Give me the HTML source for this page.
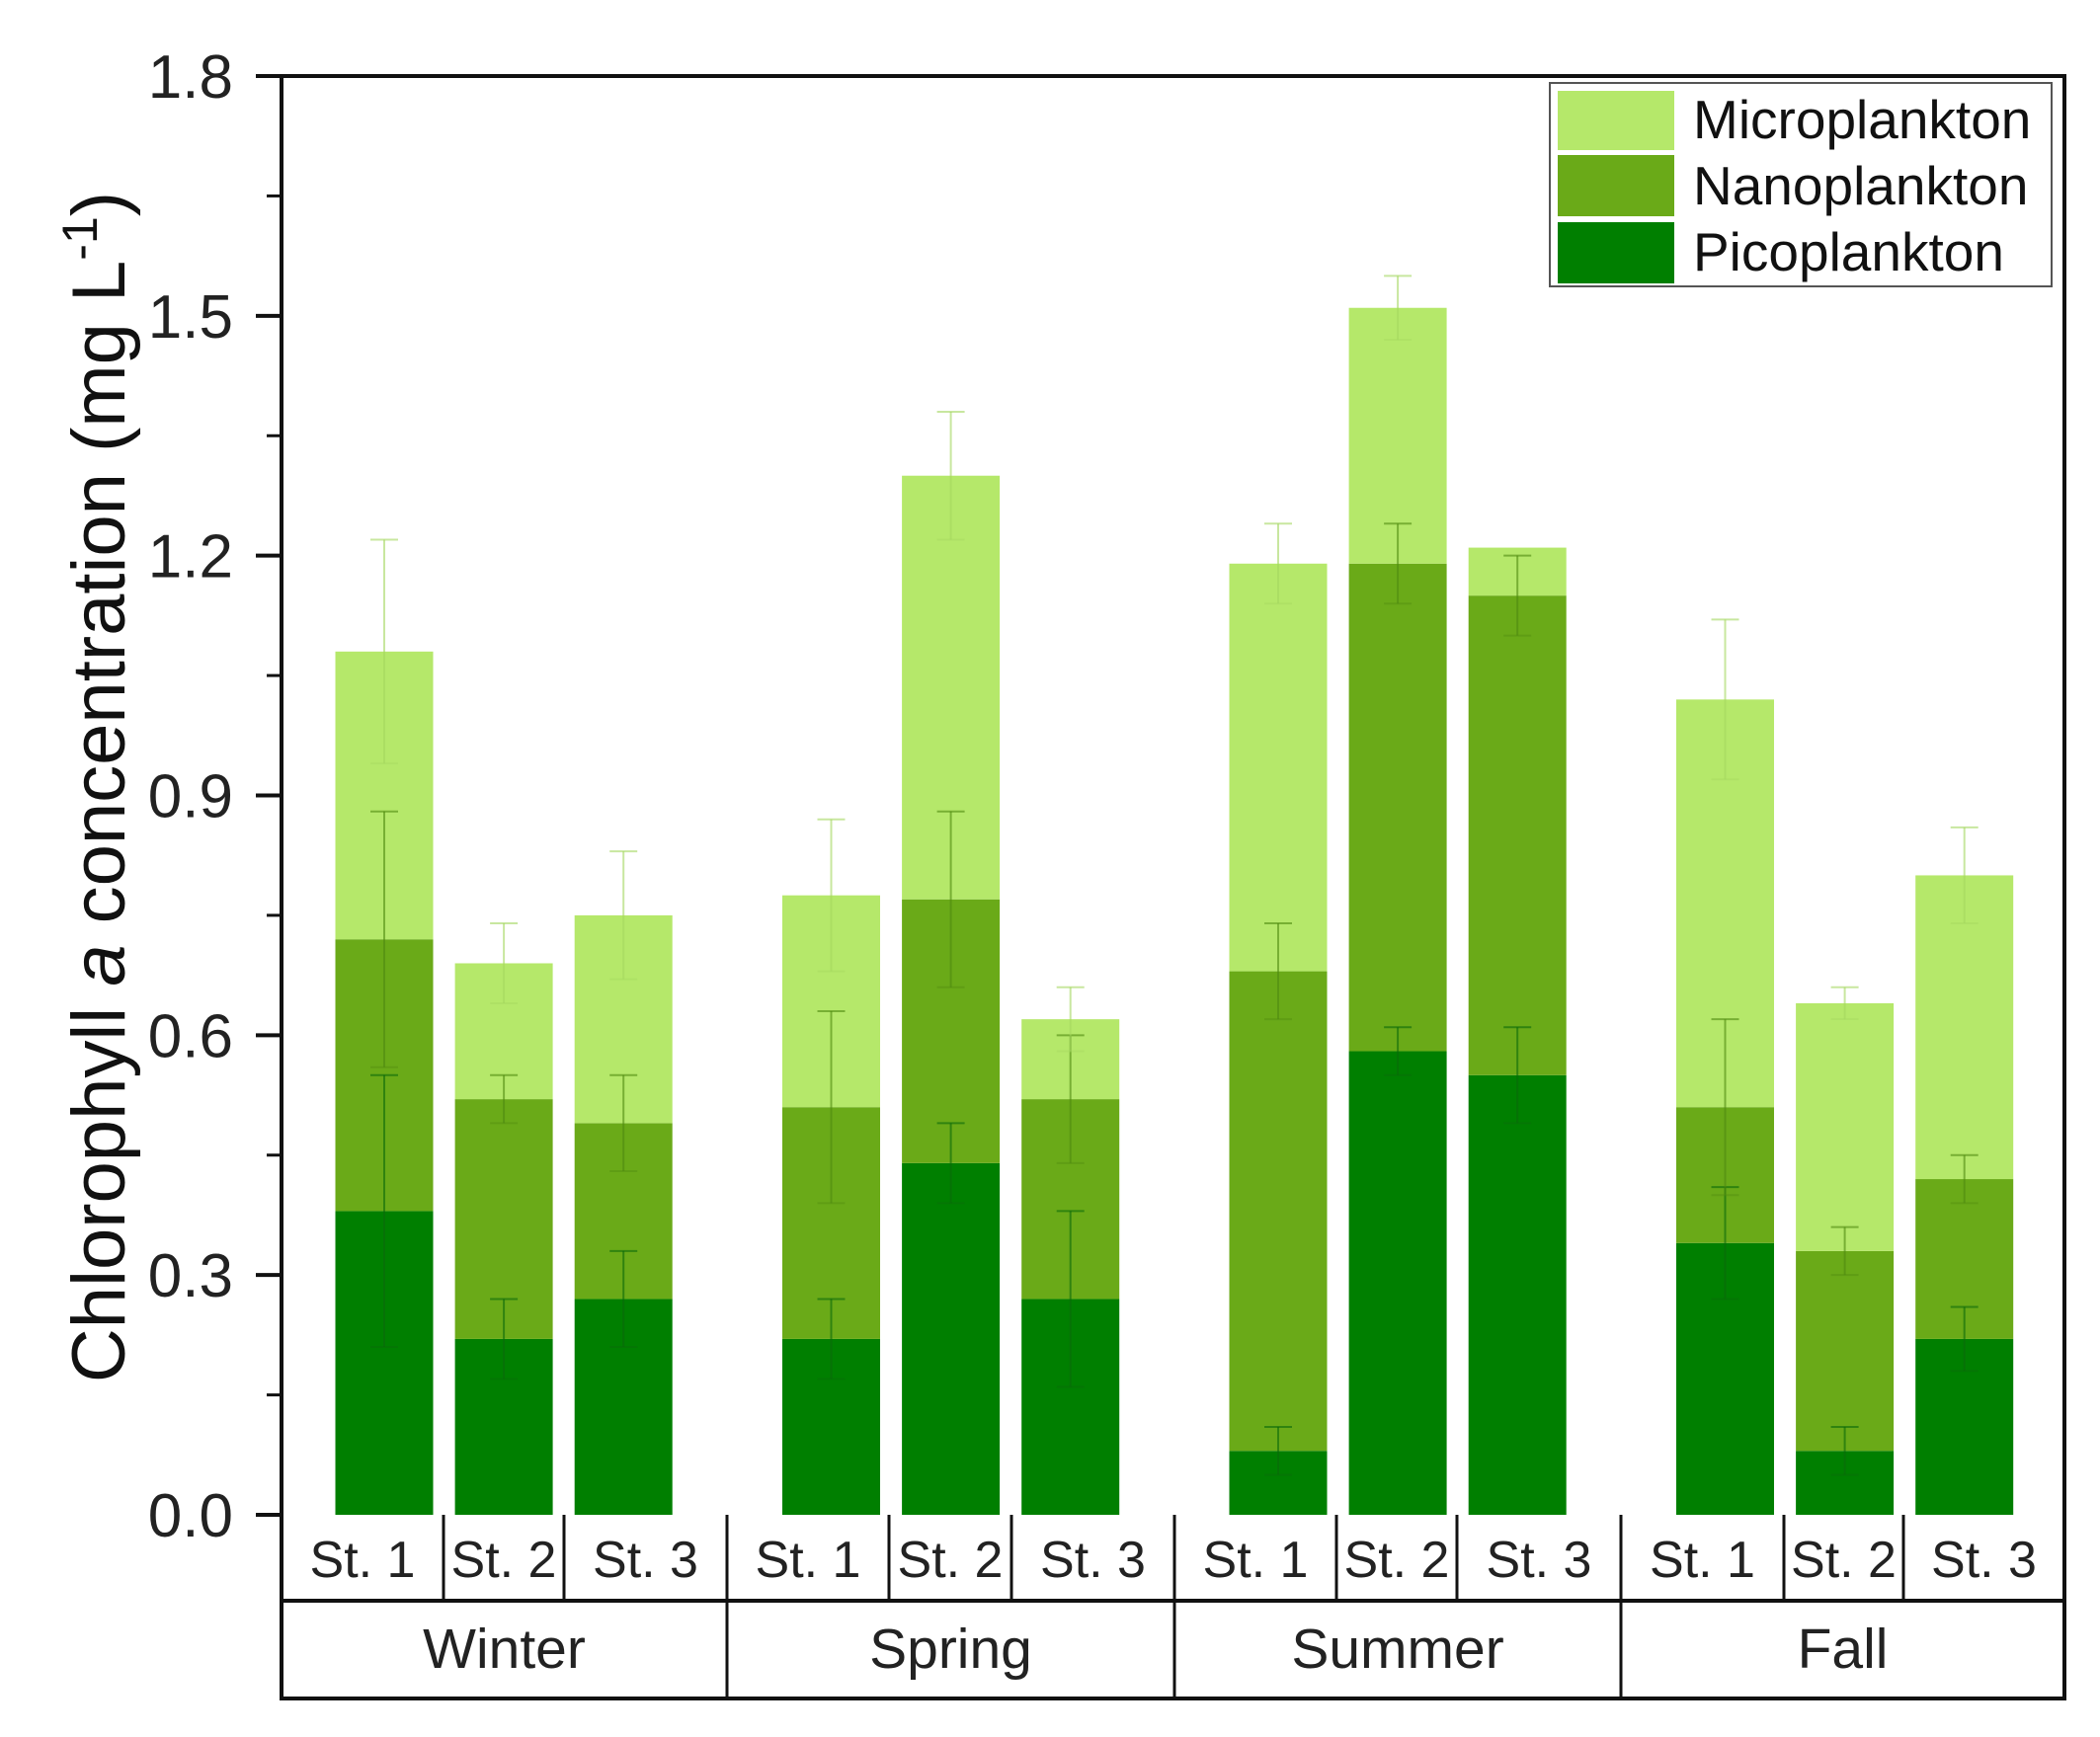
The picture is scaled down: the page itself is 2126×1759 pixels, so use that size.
<!DOCTYPE html>
<html><head><meta charset="utf-8"><style>
body{margin:0;background:#fff}
svg{display:block;font-family:"Liberation Sans",Arial,sans-serif}
</style></head><body>
<svg id="chart" width="2126" height="1759" viewBox="0 0 2126 1759" xmlns="http://www.w3.org/2000/svg">
<g id="marks"></g>
<g id="axes"></g>
<text transform="translate(126,797) rotate(-90)" text-anchor="middle" font-size="76" fill="#111">Chlorophyll <tspan font-style="italic">a</tspan> concentration (mg L<tspan dy="-28" font-size="50">-1</tspan><tspan dy="28">)</tspan></text>
<g>
<rect x="1569" y="84" width="508" height="206" fill="#fff" stroke="#555" stroke-width="2"/>
<rect x="1577" y="92" width="118" height="60" fill="#b5e86a"/>
<rect x="1577" y="157" width="118" height="62" fill="#6aaa18"/>
<rect x="1577" y="225" width="118" height="62" fill="#007f00"/>
<text x="1714" y="140" font-size="55" fill="#111">Microplankton</text>
<text x="1714" y="207" font-size="55" fill="#111">Nanoplankton</text>
<text x="1714" y="274" font-size="55" fill="#111">Picoplankton</text>
</g>
</svg>
<script>
const seasons = ["Winter","Spring","Summer","Fall"];
const stations = ["St. 1","St. 2","St. 3"];
const pico = [0.38,0.22,0.27, 0.22,0.44,0.27, 0.08,0.58,0.55, 0.34,0.08,0.22];
const nano = [0.34,0.30,0.22, 0.29,0.33,0.25, 0.60,0.61,0.60, 0.17,0.25,0.20];
const micro = [0.36,0.17,0.26, 0.265,0.53,0.10, 0.51,0.32,0.06, 0.51,0.31,0.38];
const picoErr = [0.17,0.05,0.06, 0.05,0.05,0.11, 0.03,0.03,0.06, 0.07,0.03,0.04];
const nanoErr = [0.16,0.03,0.06, 0.12,0.11,0.08, 0.06,0.05,0.05, 0.11,0.03,0.03];
const microErr = [0.14,0.05,0.08, 0.095,0.08,0.04, 0.05,0.04,0.00, 0.10,0.02,0.06];
const yTicks = [0,0.3,0.6,0.9,1.2,1.5,1.8];
const yTickLabels = ["0.0","0.3","0.6","0.9","1.2","1.5","1.8"];

const NS="http://www.w3.org/2000/svg";
const X0=285,X1=2090,Y0=1534,Y1=77,YMAX=1.8;
const y=v=>Y0-(v/YMAX)*(Y0-Y1);
const xc=i=>389+Math.floor(i/3)*452.5+(i%3)*121.1;
const BW=99;
function mk(t,a,p){const e=document.createElementNS(NS,t);for(const k in a)e.setAttribute(k,a[k]);(p||document.getElementById('chart')).appendChild(e);return e;}
const marks=document.getElementById('marks');
const layers=[[pico,picoErr,"#007f00","#0a6a0a","pico"],[nano,nanoErr,"#6aaa18","#4f8a10","nano"],[micro,microErr,"#b5e86a","#a5d860","micro"]];
const errs=[];
pico.forEach((_,i)=>{
  let base=0;
  layers.forEach(L=>{
    const v=L[0][i],top=base+v;
    const r=mk('rect',{x:xc(i)-BW/2,y:y(top),width:BW,height:y(base)-y(top),fill:L[2]},marks);
    
    
    errs.push([i,top,L[1][i],L[3]]);
    base=top;
  });
});
errs.forEach(([i,top,e,c])=>{
  if(e<=0)return;
  const g=mk('g',{},marks);
  
  
  mk('line',{x1:xc(i),x2:xc(i),y1:y(top-e),y2:y(top+e),stroke:c,'stroke-width':2,opacity:0.6},g);
  mk('line',{x1:xc(i)-14,x2:xc(i)+14,y1:y(top+e),y2:y(top+e),stroke:c,'stroke-width':2,opacity:0.6},g);
  mk('line',{x1:xc(i)-14,x2:xc(i)+14,y1:y(top-e),y2:y(top-e),stroke:c,'stroke-width':2,opacity:0.4},g);
});
const ax=document.getElementById('axes');
const frame=mk('path',{d:`M${X0},${Y0}V${Y1}H${X1}V${Y0}`,fill:'none',stroke:'#111','stroke-width':4},ax);

yTicks.forEach((v,k)=>{
  mk('line',{x1:X0-26,x2:X0,y1:y(v),y2:y(v),stroke:'#111','stroke-width':4},ax);
  if(k<yTicks.length-1)mk('line',{x1:X0-15,x2:X0,y1:y(v+0.15),y2:y(v+0.15),stroke:'#111','stroke-width':3},ax);
  const t=mk('text',{x:236,y:y(v)+22,'text-anchor':'end','font-size':62,fill:'#222'},ax);
  
  t.textContent=yTickLabels[k];
});
const R1=1534,R2=1621,R3=1720;
mk('path',{d:`M${X0},${R1}V${R3}H${X1}V${R1}M${X0},${R2}H${X1}`,fill:'none',stroke:'#111','stroke-width':4},ax);
const gB=[285,736,1189,1641,2090];
const sD=[[449,571],[900,1024],[1353,1475],[1806,1927]];
seasons.forEach((s,g)=>{
  if(g>0)mk('line',{x1:gB[g],x2:gB[g],y1:R1,y2:R3,stroke:'#111','stroke-width':3},ax);
  const b=[gB[g],sD[g][0],sD[g][1],gB[g+1]];
  sD[g].forEach(x=>mk('line',{x1:x,x2:x,y1:R1,y2:R2,stroke:'#111','stroke-width':3},ax));
  stations.forEach((st,k)=>{
    const t=mk('text',{x:(b[k]+b[k+1])/2,y:1597,'text-anchor':'middle','font-size':52,fill:'#222'},ax);
    
    t.textContent=st;
  });
  const t=mk('text',{x:(gB[g]+gB[g+1])/2,y:1689,'text-anchor':'middle','font-size':57,fill:'#222'},ax);
  
  t.textContent=s;
});
</script>
</body></html>
